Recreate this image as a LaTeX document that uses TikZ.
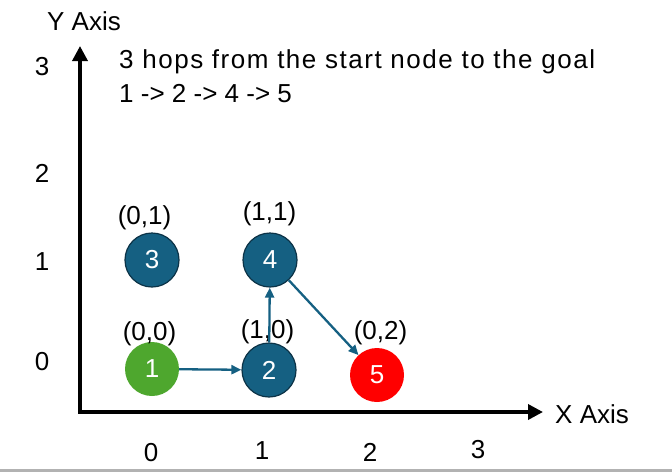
\documentclass[tikz,border=0pt]{standalone}
\usepackage{fontspec}
\setmainfont{Liberation Sans}
\usetikzlibrary{arrows.meta}
\definecolor{hopblue}{HTML}{156082}
\definecolor{hopedge}{HTML}{0C3347}
\definecolor{hopgreen}{HTML}{4EA72E}
\begin{document}
\begin{tikzpicture}[x=1pt, y=-1pt,
    every node/.style={font=\fontsize{26}{30}\selectfont, inner sep=0pt},
    state/.style={circle, minimum size=54pt, text=white},
    bluestate/.style={state, fill=hopblue, draw=hopedge, line width=1.2pt},
    hop/.style={hopblue, line width=2.3pt, -{Triangle[length=10pt,width=9pt]}},
    axis/.style={line width=3.5pt, line join=miter, {Triangle[length=15pt,width=15pt]}-{Triangle[length=15pt,width=15pt]}}]
    \useasboundingbox (0,0) rectangle (672,472);
    \fill[gray!60] (0,469) rectangle (672,472);
    % axes
    \coordinate (ytop) at (80,46);
    \coordinate (o) at (80,412);
    \coordinate (xend) at (543,412);
    \draw[axis] (ytop) -- (o) -- (xend);
    \node[anchor=base west] (ylab) at (47,30) {Y Axis};
    \node[anchor=base west] (xlab) at (555,423) {X Axis};
    \foreach \v/\px/\py in {0/151/461, 1/262/459, 2/370/461, 3/478/458}
        \node[anchor=base] (xt\v) at (\px,\py) {\v};
    \foreach \v/\py in {0/370, 1/270, 2/182, 3/75}
        \node[anchor=base] (yt\v) at (42,\py) {\v};
    % text
    \node[anchor=base west] (hops) at (119,68) {\addfontfeature{LetterSpace=5.8}3 hops from the start node to the goal};
    \node[anchor=base west] (route) at (119,102) {1 -> 2 -> 4 -> 5};
    % states
    \node[state, fill=hopgreen] (n1) at (152,369) {1};
    \node[bluestate] (n2) at (269,370) {2};
    \node[bluestate] (n3) at (152,260) {3};
    \node[bluestate] (n4) at (270,260) {4};
    \node[state, fill=red] (n5) at (377,375) {5};
    \node[anchor=base] (c1) at (149.5,340) {(0,0)};
    \node[anchor=base] (c2) at (267.5,338) {(1,0)};
    \node[anchor=base] (c3) at (144.5,224) {(0,1)};
    \node[anchor=base] (c4) at (269.5,220) {(1,1)};
    \node[anchor=base] (c5) at (380.5,339) {(0,2)};
    % hops
    \draw[hop] (n1) -- (n2);
    \draw[hop] (n2) -- (n4);
    \draw[hop] (n4) -- (n5);
\end{tikzpicture}
\end{document}
